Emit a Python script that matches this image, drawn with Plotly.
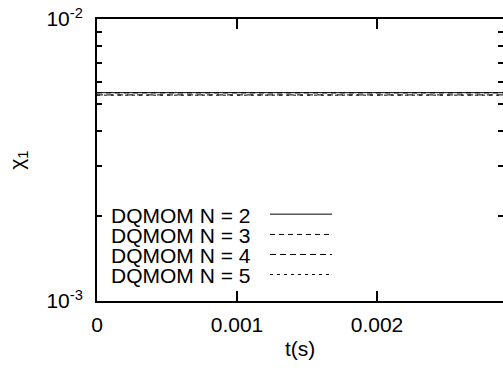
import plotly.graph_objects as go

# ---- data ----
t = [0.0, 0.0005, 0.001, 0.0015, 0.002, 0.0025, 0.0029]
chi_n2 = [5.48e-3, 5.48e-3, 5.48e-3, 5.48e-3, 5.48e-3, 5.48e-3, 5.48e-3]
chi_n3 = [5.47e-3, 5.47e-3, 5.47e-3, 5.47e-3, 5.47e-3, 5.47e-3, 5.47e-3]
chi_n4 = [5.38e-3, 5.38e-3, 5.38e-3, 5.38e-3, 5.38e-3, 5.38e-3, 5.38e-3]
chi_n5 = [5.37e-3, 5.37e-3, 5.37e-3, 5.37e-3, 5.37e-3, 5.37e-3, 5.37e-3]
series_names = ["DQMOM N = 2", "DQMOM N = 3", "DQMOM N = 4", "DQMOM N = 5"]
series_dash = ["solid", "5px,4px", "6px,4px", "3px,4px"]

x_tickvals = [0, 0.001, 0.002]
x_ticktext = ["0", "0.001", "0.002"]
y_tickvals = [0.001, 0.01]
y_ticktext = ["10<sup>-3</sup>", "10<sup>-2</sup>"]
y_minorvals = [0.002, 0.003, 0.004, 0.005, 0.006, 0.007, 0.008, 0.009]

FONT = "Liberation Sans, Arial, Helvetica, sans-serif"
FS = 21

fig = go.Figure()
for name, ys, dash in zip(series_names, [chi_n2, chi_n3, chi_n4, chi_n5], series_dash):
    fig.add_trace(go.Scatter(x=t, y=ys, mode="lines", name=name,
                             line=dict(color="black", width=1, dash=dash),
                             showlegend=False))
# invisible trace to activate right-hand tick axis
fig.add_trace(go.Scatter(x=t, y=chi_n2, yaxis="y2", mode="lines",
                         line=dict(color="rgba(0,0,0,0)", width=0),
                         showlegend=False, hoverinfo="skip"))

# manual gnuplot-style legend (text left, sample right)
leg_y = [0.303, 0.231, 0.160, 0.089]
for name, dash, yy in zip(series_names, series_dash, leg_y):
    fig.add_annotation(text=name, x=0.029, y=yy, xref="paper", yref="paper",
                       xanchor="left", yanchor="middle", showarrow=False,
                       font=dict(family=FONT, size=FS, color="black"))
    fig.add_shape(type="line", xref="paper", yref="paper",
                  x0=0.426, x1=0.579, y0=yy + 0.005, y1=yy + 0.005,
                  line=dict(color="black", width=1, dash=dash))

# axis titles
fig.add_annotation(text="χ<sub>1</sub>", x=-0.195, y=0.5, xref="paper", yref="paper",
                   textangle=-90, showarrow=False, xanchor="center", yanchor="middle",
                   font=dict(family=FONT, size=FS, color="black"))
fig.add_annotation(text="t(s)", x=0.5, y=-0.168, xref="paper", yref="paper",
                   showarrow=False, xanchor="center", yanchor="middle",
                   font=dict(family=FONT, size=FS, color="black"))

minor_y = dict(tickvals=y_minorvals, ticks="inside", ticklen=5, tickwidth=1.5,
               tickcolor="black", showgrid=False)

fig.update_layout(
    width=503, height=376,
    margin=dict(l=97, r=0, t=19, b=75),
    paper_bgcolor="white", plot_bgcolor="white",
    font=dict(family=FONT, size=FS, color="black"),
    showlegend=False,
    xaxis=dict(range=[0, 0.0029], tickvals=x_tickvals, ticktext=x_ticktext,
               ticks="inside", ticklen=10, tickwidth=1.5, tickcolor="black",
               showline=True, linewidth=2, linecolor="black", mirror="ticks",
               showgrid=False, zeroline=False, ticklabelstandoff=4),
    yaxis=dict(type="log", range=[-3, -2], tickvals=y_tickvals, ticktext=y_ticktext,
               ticks="inside", ticklen=10, tickwidth=1.5, tickcolor="black",
               showline=True, linewidth=2, linecolor="black", mirror=False,
               showgrid=False, zeroline=False, ticklabelstandoff=8, minor=minor_y),
    yaxis2=dict(type="log", range=[-3, -2], overlaying="y", side="right",
                tickvals=y_tickvals, showticklabels=False,
                ticks="inside", ticklen=10, tickwidth=1.5, tickcolor="black",
                showline=False, showgrid=False, zeroline=False, minor=minor_y),
)

fig.write_html("out.html")
